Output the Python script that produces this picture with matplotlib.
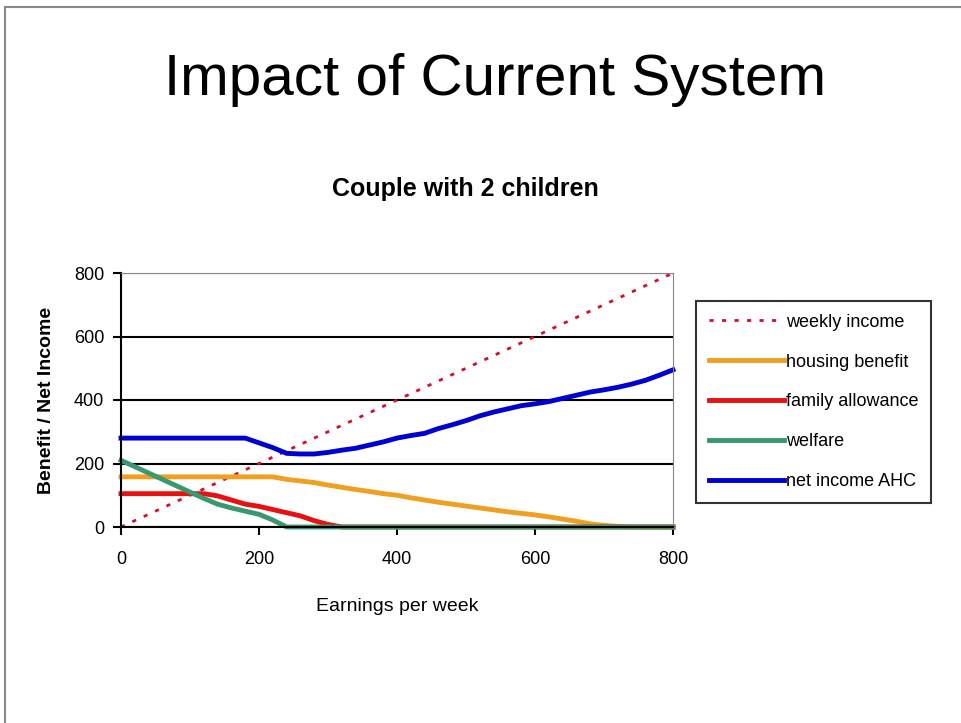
import matplotlib.pyplot as plt
from matplotlib.patches import Rectangle

earnings = [0, 20, 40, 60, 80, 100, 120, 140, 160, 180, 200, 220, 240, 260, 280, 300,
            320, 340, 360, 380, 400, 420, 440, 460, 480, 500, 520, 540, 560, 580, 600,
            620, 640, 660, 680, 700, 720, 740, 760, 780, 800]

income_x = [0, 800]
weekly_income = [0, 800]

housing_benefit = [158, 158, 158, 158, 158, 158, 158, 158, 158, 158, 158, 158, 150, 145, 140, 132,
                   125, 118, 112, 105, 100, 92, 85, 78, 72, 66, 60, 54, 48, 43, 38,
                   32, 25, 18, 10, 5, 2, 0, 0, 0, 0]
family_allowance = [105, 105, 105, 105, 105, 105, 105, 98, 85, 72, 65, 55, 45, 35, 20, 8,
                    0, 0, 0, 0, 0, 0, 0, 0, 0, 0, 0, 0, 0, 0, 0,
                    0, 0, 0, 0, 0, 0, 0, 0, 0, 0]
welfare = [210, 190, 170, 150, 130, 110, 90, 72, 60, 50, 40, 22, 0, 0, 0, 0,
           0, 0, 0, 0, 0, 0, 0, 0, 0, 0, 0, 0, 0, 0, 0,
           0, 0, 0, 0, 0, 0, 0, 0, 0, 0]
net_income = [280, 280, 280, 280, 280, 280, 280, 280, 280, 280, 265, 250, 232, 230, 230, 235,
              242, 248, 258, 268, 280, 288, 295, 310, 322, 335, 350, 362, 372, 382, 388,
              395, 405, 415, 425, 432, 440, 450, 462, 478, 495]

plt.rcParams['font.family'] = ['Liberation Sans', 'DejaVu Sans']

fig = plt.figure(figsize=(9.61, 7.23), dpi=100)
fig.patches.append(Rectangle((5 / 961, -0.1), 1.2, 1 - 7 / 723 + 0.1, transform=fig.transFigure,
                             fill=False, edgecolor='#888888', linewidth=1.5))

fig.text(0.515, 0.889, 'Impact of Current System', ha='center', va='center', fontsize=42)
fig.text(0.484, 0.739, 'Couple with 2 children', ha='center', va='center', fontsize=18,
         fontweight='bold')

ax = fig.add_axes([121 / 961, 1 - 527 / 723, (673 - 121) / 961, (527 - 273) / 723])

ax.plot(income_x, weekly_income, color='#d01030', linewidth=2, linestyle=(0, (1.5, 3)),
        label='weekly income', clip_on=False)
ax.plot(earnings, housing_benefit, color='#f0a020', linewidth=3.5, label='housing benefit',
        clip_on=False)
ax.plot(earnings, family_allowance, color='#e81010', linewidth=3.5, label='family allowance',
        clip_on=False)
ax.plot(earnings, welfare, color='#3a9870', linewidth=3.5, label='welfare', clip_on=False)
ax.plot(earnings, net_income, color='#0000d0', linewidth=3.5, label='net income AHC',
        clip_on=False)

ax.set_xlim(0, 800)
ax.set_ylim(0, 800)
ax.set_xticks([0, 200, 400, 600, 800])
ax.set_yticks([0, 200, 400, 600, 800])
ax.yaxis.grid(True, color='black', linewidth=1.5)
ax.set_axisbelow(True)
ax.spines['top'].set_color('#888888')
ax.spines['right'].set_color('#888888')
ax.spines['left'].set_linewidth(1.5)
ax.spines['bottom'].set_linewidth(1.5)
ax.tick_params(direction='out', length=6, width=1.5, labelsize=13)
ax.tick_params(axis='x', pad=11)
ax.tick_params(axis='y', pad=6)

ax.set_xlabel('Earnings per week', fontsize=14, labelpad=22)
ax.set_ylabel('Benefit / Net Income', fontsize=14, fontweight='bold', labelpad=14)

leg = ax.legend(loc='upper left', bbox_to_anchor=(696 / 961, 1 - 301 / 723),
                bbox_transform=fig.transFigure, borderaxespad=0, frameon=True, fancybox=False,
                edgecolor='black', handlelength=4.2, handletextpad=0.1, labelspacing=1.27,
                borderpad=0.7, prop={'size': 13})
leg.get_frame().set_linewidth(1.5)

fig.savefig('out.png', dpi=100)
